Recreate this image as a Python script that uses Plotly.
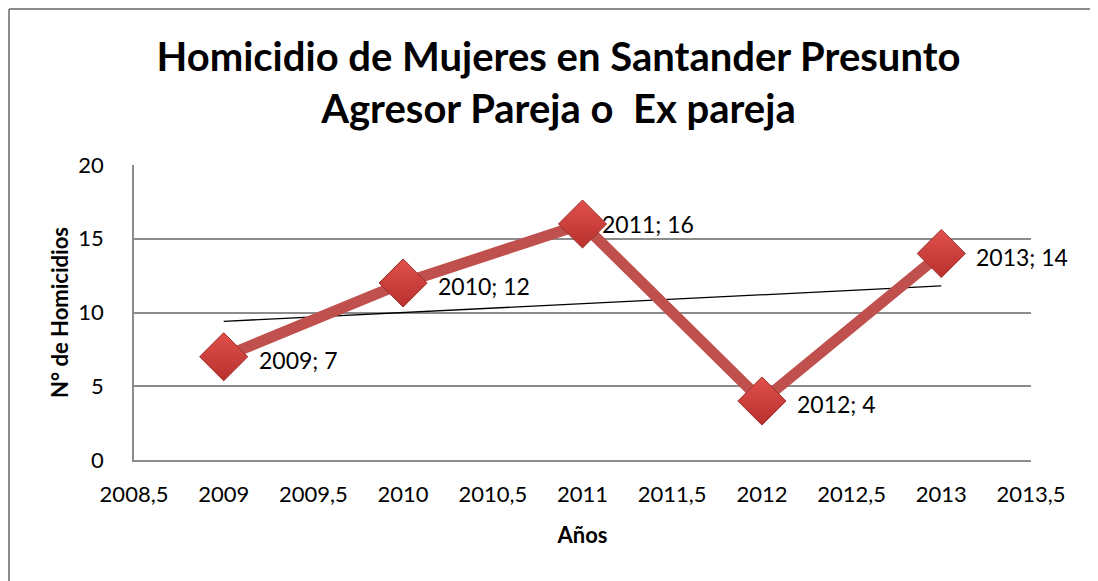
import numpy as np
import plotly.graph_objects as go

years = [2009, 2010, 2011, 2012, 2013]
homicidios = [7, 12, 16, 4, 14]
x_tick_vals = [2008.5, 2009, 2009.5, 2010, 2010.5, 2011, 2011.5, 2012, 2012.5, 2013, 2013.5]
x_tick_text = ["2008,5", "2009", "2009,5", "2010", "2010,5", "2011", "2011,5", "2012", "2012,5", "2013", "2013,5"]
y_tick_vals = [0, 5, 10, 15, 20]

FONT = "Lato, Carlito, Calibri, sans-serif"

# linear trendline from data
slope, intercept = np.polyfit(years, homicidios, 1)
trend_x = [years[0], years[-1]]
trend_y = [slope * v + intercept for v in trend_x]

fig = go.Figure()
fig.add_trace(go.Scatter(
    x=trend_x, y=trend_y, mode="lines",
    line=dict(color="black", width=1.3), hoverinfo="skip", showlegend=False,
))
fig.add_trace(go.Scatter(
    x=years, y=homicidios, mode="lines+markers",
    line=dict(color="#C0504D", width=11),
    marker=dict(symbol="diamond", size=37, color="#E0504C",
                gradient=dict(type="vertical", color="#B8302D"),
                line=dict(color="#9E2E2B", width=1)),
    showlegend=False,
))

shifts = {2011: (17, 0)}
for xv, yv in zip(years, homicidios):
    dx, dy = shifts.get(xv, (33, -3))
    fig.add_annotation(
        x=xv, y=yv, text=f"{xv}; {yv}", showarrow=False,
        xanchor="left", yanchor="middle", xshift=dx, yshift=dy,
        font=dict(family=FONT, size=23, color="black"),
    )

# outer chart border (left and top visible); page body margin is 8px
PW, PH = 897, 295
bx = (1 - 126) / PW
by = 1 + (157 - 1) / PH
fig.add_shape(type="line", xref="paper", yref="paper",
              x0=bx, x1=bx, y0=by, y1=-1,
              line=dict(color="#8c8c8c", width=2))
fig.add_shape(type="line", xref="paper", yref="paper",
              x0=bx, x1=1.2, y0=by, y1=by,
              line=dict(color="#8c8c8c", width=2))

fig.update_layout(
    width=1090, height=573,
    margin=dict(l=126, r=67, t=157, b=121),
    paper_bgcolor="white", plot_bgcolor="white",
    font=dict(family=FONT, color="black"),
    title=dict(
        text="<b>Homicidio de Mujeres en Santander Presunto<br>Agresor Pareja o  Ex pareja</b>",
        x=0.505, xanchor="center", yref="container", y=1 - 63 / 573, yanchor="middle",
        font=dict(family=FONT, size=40, color="black"),
    ),
    xaxis=dict(
        range=[2008.5, 2013.5], tickvals=x_tick_vals, ticktext=x_tick_text,
        showgrid=False, zeroline=False, showline=True, linecolor="#8c8c8c", linewidth=1.5,
        tickfont=dict(family=FONT, size=22), ticks="", ticklabelstandoff=14,
        title=dict(text="<b>Años</b>", font=dict(family=FONT, size=22), standoff=21),
    ),
    yaxis=dict(
        range=[0, 20], tickvals=y_tick_vals,
        showgrid=True, gridcolor="#8c8c8c", gridwidth=1.5, zeroline=False,
        showline=True, linecolor="#8c8c8c", linewidth=1.5,
        tickfont=dict(family=FONT, size=22), ticks="", ticklabelstandoff=24,
        title=dict(text="<b>N° de Homicidios</b>", font=dict(family=FONT, size=22), standoff=4),
    ),
)

fig.write_html("out.html")
